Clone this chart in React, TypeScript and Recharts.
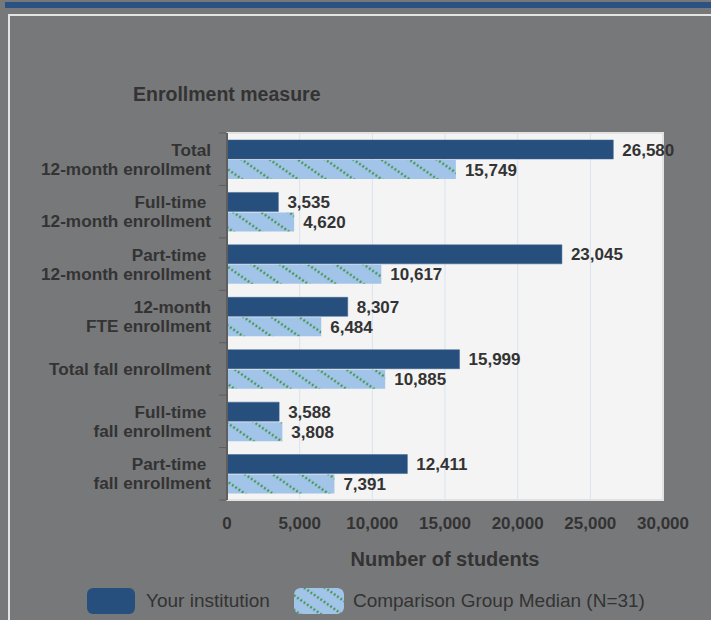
import React from 'react';
import {
  BarChart, Bar, XAxis, YAxis, CartesianGrid, LabelList, ReferenceArea,
} from 'recharts';

const CATEGORIES = [
  'Total\n12-month enrollment',
  'Full-time \n12-month enrollment',
  'Part-time \n12-month enrollment',
  '12-month\nFTE enrollment',
  'Total fall enrollment',
  'Full-time \nfall enrollment',
  'Part-time \nfall enrollment',
];
const YOUR_INSTITUTION = [26580, 3535, 23045, 8307, 15999, 3588, 12411];
const COMPARISON_MEDIAN = [15749, 4620, 10617, 6484, 10885, 3808, 7391];
const X_TICKS = [0, 5000, 10000, 15000, 20000, 25000, 30000];

const DARK = '#264f7e';
const LIGHT = '#a2c4e8';
const DOTS = '#4a9858';
const TEXT = '#333333';
const FONT = '"Liberation Sans", Arial, sans-serif';

const PLOT_TOP = 133;
const PLOT_BOTTOM = 500;
const BAND = (PLOT_BOTTOM - PLOT_TOP) / CATEGORIES.length;

const data = CATEGORIES.map((c, i) => ({
  name: c,
  yours: YOUR_INSTITUTION[i],
  median: COMPARISON_MEDIAN[i],
}));

const fmt = (n: number) => n.toLocaleString('en-US');

const HatchDefs = ({ id, size = 16 }: { id: string; size?: number }) => (
  <defs>
    <pattern id={id} width={size} height={size} patternUnits="userSpaceOnUse" patternTransform="rotate(35)">
      <rect width={size} height={size} fill={LIGHT} />
      <line x1="0" y1={size / 2} x2={size} y2={size / 2} stroke={DOTS} strokeWidth="2.6" strokeDasharray="2 2" />
    </pattern>
  </defs>
);

const CategoryTick = (props: any) => {
  const { x, y, payload, index } = props;
  const lines = String(payload.value).split('\n');
  const first = lines.length === 1 ? 0 : -9.5;
  return (
    <g>
      <line x1={x + 8} x2={x + 16} y1={y - BAND / 2} y2={y - BAND / 2} stroke="#5e5e5e" />
      {index === CATEGORIES.length - 1 && (
        <line x1={x + 8} x2={x + 16} y1={y + BAND / 2} y2={y + BAND / 2} stroke="#5e5e5e" />
      )}
      <text x={x} y={y + first} textAnchor="end" dominantBaseline="central"
        fill={TEXT} fontFamily={FONT} fontSize={17.2} fontWeight="bold" style={{ whiteSpace: 'pre' }}>
        {lines.map((l, i) => (
          <tspan key={i} x={x} dy={i === 0 ? 0 : 19}>{l}</tspan>
        ))}
      </text>
    </g>
  );
};

export default function App() {
  return (
    <div style={{ position: 'absolute', left: 0, top: 0, width: 711, height: 620, background: '#77787a', overflow: 'hidden' }}>
      <div style={{ position: 'absolute', left: 5, top: 2, right: 0, height: 6, background: '#2c5183' }} />
      <div style={{ position: 'absolute', left: 8, top: 14, width: 720, height: 640, border: '2px solid #e4e4e4' }} />
      <div style={{
        position: 'absolute', left: 133, top: 83, color: TEXT, fontFamily: FONT,
        fontSize: 19.5, fontWeight: 'bold', whiteSpace: 'nowrap',
      }}>
        Enrollment measure
      </div>

      <div style={{ position: 'absolute', left: 0, top: 0 }}>
        <BarChart
          width={711}
          height={620}
          data={data}
          layout="vertical"
          margin={{ top: PLOT_TOP, right: 48, left: 0, bottom: 50 }}
          barSize={19}
          barGap={1}
        >
          <HatchDefs id="hatch" />
          <CartesianGrid horizontal={false} stroke="#d9e3ef" fill="#f4f4f4" />
          <ReferenceArea x1={0} x2={30000} fill="none" stroke="#e2e2e2" strokeWidth={2} ifOverflow="extendDomain" />
          <XAxis
            type="number"
            domain={[0, 30000]}
            ticks={X_TICKS}
            tickFormatter={fmt}
            axisLine={false}
            tickLine={false}
            tickSize={0}
            tickMargin={17}
            height={70}
            tick={{ fill: TEXT, fontSize: 17, fontWeight: 'bold', fontFamily: FONT }}
            label={{
              value: 'Number of students', position: 'insideBottom', offset: 4,
              fill: TEXT, fontSize: 20, fontWeight: 'bold', fontFamily: FONT,
            }}
          />
          <YAxis
            type="category"
            dataKey="name"
            width={227}
            axisLine={{ stroke: '#5e5e5e', strokeWidth: 2 }}
            tickLine={false}
            tickSize={0}
            tickMargin={16}
            tick={<CategoryTick />}
            interval={0}
          />
          <Bar dataKey="yours" name="Your institution" fill={DARK} stroke="#3d628f" strokeWidth={0.5} isAnimationActive={false}>
            <LabelList dataKey="yours" position="right" offset={9} formatter={fmt}
              fill={TEXT} fontSize={17} fontWeight="bold" fontFamily={FONT} />
          </Bar>
          <Bar dataKey="median" name="Comparison Group Median (N=31)" fill="url(#hatch)" isAnimationActive={false}>
            <LabelList dataKey="median" position="right" offset={9} formatter={fmt}
              fill={TEXT} fontSize={17} fontWeight="bold" fontFamily={FONT} />
          </Bar>
        </BarChart>
      </div>

      <div style={{
        position: 'absolute', top: 588, left: 87, display: 'flex', alignItems: 'center',
        fontFamily: FONT, fontSize: 19, color: TEXT, whiteSpace: 'nowrap',
      }}>
        <div style={{ width: 48, height: 26, borderRadius: 6, background: DARK }} />
        <span style={{ marginLeft: 11 }}>Your institution</span>
        <svg width={50} height={26} style={{ marginLeft: 24, borderRadius: 6 }}>
          <HatchDefs id="hatch-legend" size={12} />
          <rect width={50} height={26} rx={6} fill="url(#hatch-legend)" />
        </svg>
        <span style={{ marginLeft: 9 }}>Comparison Group Median (N=31)</span>
      </div>
    </div>
  );
}
